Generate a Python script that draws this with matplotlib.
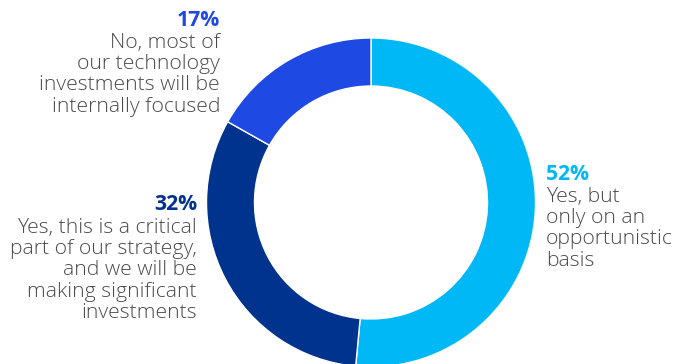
import matplotlib
matplotlib.use("Agg")
import matplotlib.pyplot as plt

categories = [
    "Yes, but\nonly on an\nopportunistic\nbasis",
    "Yes, this is a critical\npart of our strategy,\nand we will be\nmaking significant\ninvestments",
    "No, most of\nour technology\ninvestments will be\ninternally focused",
]
values = [52, 32, 17]
pct_labels = ["52%", "32%", "17%"]
colors = ["#00B8F5", "#00338D", "#1E49E2"]

W, H = 686, 364
fig = plt.figure(figsize=(W / 100, H / 100), dpi=100)
ax = fig.add_axes([0, 0, 1, 1])
ax.set_xlim(0, W)
ax.set_ylim(0, H)
ax.set_aspect("equal")
ax.axis("off")

cx, cy = 371, H - 202.5
R = 164.5
ax.pie(values, colors=colors, startangle=90, counterclock=False,
       center=(cx, cy), radius=R, normalize=True,
       wedgeprops=dict(width=48, edgecolor="white", linewidth=1.0))
ax.set_xlim(0, W)
ax.set_ylim(0, H)

font = "Open Sans"
fs = 15.2
pfs = 15.2
gray = "#4A4A4A"

anchors = [(546, 174, "left"), (197, 205, "right"), (220, 20, "right")]
pitch = 21.2
for lab, pct, col, (x, y0, ha) in zip(categories, pct_labels, colors, anchors):
    ax.text(x, H - y0, pct, color=col, fontsize=pfs, fontweight="bold",
            family=font, ha=ha, va="center")
    for i, line in enumerate(lab.split("\n")):
        ax.text(x, H - (y0 + 23 + i * pitch), line, color=gray, fontsize=fs,
                fontweight="light", family=font, ha=ha, va="center")

fig.savefig("out.png", dpi=100)
